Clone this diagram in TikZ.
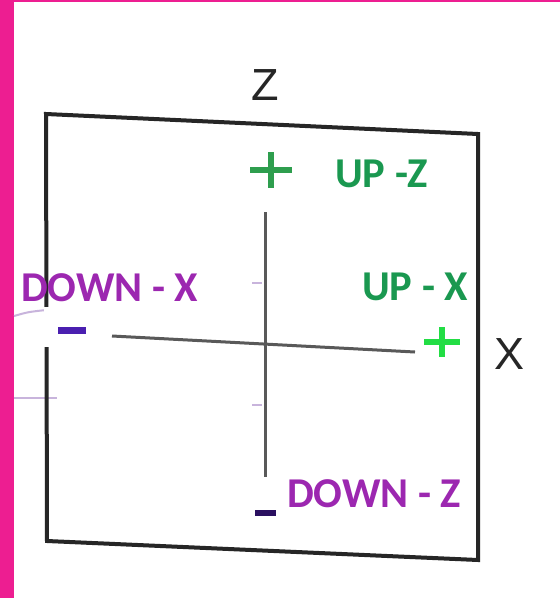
\documentclass[tikz,border=0pt]{standalone}
\usepackage{fontspec}
\setmainfont{Carlito}
\newfontfamily\axfont{Liberation Sans}
\definecolor{pinkbar}{HTML}{ED1E91}
\definecolor{upgreen}{HTML}{1A9850}
\definecolor{downpurple}{HTML}{9C27B0}
\definecolor{plusdark}{HTML}{2E9E4E}
\definecolor{plusbright}{HTML}{22DD44}
\definecolor{minusleft}{HTML}{4A1FB0}
\definecolor{minusbot}{HTML}{2A1060}
\definecolor{faint}{HTML}{C8B4DC}
\begin{document}
\begin{tikzpicture}[x=1pt,y=-1pt,
  lbl/.style={anchor=base west,inner sep=0pt,font=\fontsize{42.5}{42.5}\selectfont\bfseries},
  axlbl/.style={anchor=base,inner sep=0pt,font=\axfont\fontsize{45}{45}\selectfont,text=black!85},
  axis/.style={line width=3pt,draw=black!65},
  sign/.style={line width=6pt}]
\useasboundingbox (0,0) rectangle (560,598);
\fill[white] (0,0) rectangle (560,598);
\fill[pinkbar] (0,0) rectangle (14,598);
\fill[pinkbar] (0,0) rectangle (560,2);
% faint lines left
\draw[faint,line width=2pt] (14,316) .. controls (28,312) .. (46,310);
\draw[faint,line width=2pt] (14,398) -- (57,398);
% square
\draw[line width=4pt,draw=black!85,line join=miter] (46,114) -- (478,134) -- (478,560) -- (47,541) -- cycle;
% white patch
\fill[white] (44,307) rectangle (111,347);
% axes
\coordinate (zt) at (265,212);
\coordinate (zb) at (265,477);
\coordinate (xl) at (112,336);
\coordinate (xr) at (415,352);
\draw[axis] (zt) -- (zb);
\draw[axis] (xl) -- (xr);
% faint ticks
\draw[faint,line width=2.5pt] (252,283) -- (262,283);
\draw[faint,line width=2.5pt] (252,405) -- (262,405);
% signs
\draw[sign,plusdark] (250,170) -- (292,170) (271,152) -- (271,188);
\draw[sign,plusbright] (424,342) -- (460,342) (442,327) -- (442,357);
\draw[sign,minusleft,line width=7pt] (58,330) -- (86,330);
\draw[sign,minusbot] (255,513) -- (276,513);
% labels
\node[axlbl] (zlab) at (265,100) {Z};
\node[axlbl] (xlab) at (510,369) {X};
\node[lbl,text=upgreen] (upz) at (335,187) {UP -Z};
\node[lbl,text=upgreen] (upx) at (362,300) {UP - X};
\node[lbl,text=downpurple] (downx) at (21,301) {DOWN - X};
\node[lbl,text=downpurple] (downz) at (287,507) {DOWN - Z};
\end{tikzpicture}
\end{document}
